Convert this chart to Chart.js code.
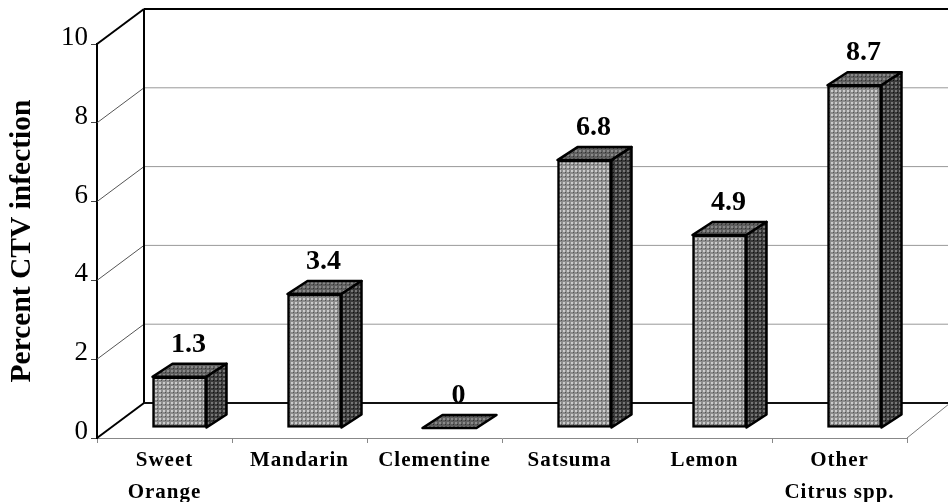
<!DOCTYPE html>
<html>
<head>
<meta charset="utf-8">
<style>
  html, body { margin: 0; padding: 0; background: #fff; }
  canvas { display: block; }
</style>
<script src="https://cdn.jsdelivr.net/npm/chart.js@4/dist/chart.umd.js"></script>
</head>
<body>
<canvas id="chart" width="948" height="502"></canvas>
<script>
const categories = [['Sweet', 'Orange'], 'Mandarin', 'Clementine', 'Satsuma', 'Lemon', ['Other', 'Citrus spp.']];
const infection = [1.3, 3.4, 0, 6.8, 4.9, 8.7];
const valueLabels = ['1.3', '3.4', '0', '6.8', '4.9', '8.7'];
const yTicks = [0, 2, 4, 6, 8, 10];

const SERIF = '"Liberation Serif", "Times New Roman", serif';

// depth of the whole box, of the bars, and where the bars stand inside the box
const boxDepth = { x: 47, y: -35 };
const barDepth = { x: 20, y: -13 };
const barShift = { x: 15, y: -10 };

// dithered fill like the printed halftone
function halftone(base, dot, shade) {
    const c = document.createElement('canvas');
    c.width = c.height = 4;
    const g = c.getContext('2d');
    g.fillStyle = base;
    g.fillRect(0, 0, 4, 4);
    g.fillStyle = dot;
    g.fillRect(0, 0, 2, 2);
    g.fillStyle = shade;
    g.fillRect(2, 2, 1, 1);
    return g.createPattern(c, 'repeat');
}

const frontFill = halftone('#8c8c8c', '#cccccc', '#555');
const topFill = halftone('#5e5e5e', '#8a8a8a', '#333');
const sideFill = halftone('#3a3a3a', '#777', '#111');

function poly(ctx, points, fill) {
    ctx.beginPath();
    points.forEach((p, i) => i ? ctx.lineTo(p[0], p[1]) : ctx.moveTo(p[0], p[1]));
    ctx.closePath();
    ctx.fillStyle = fill;
    ctx.fill();
    ctx.stroke();
}

function line(ctx, x1, y1, x2, y2, color, width) {
    ctx.beginPath();
    ctx.moveTo(x1, y1);
    ctx.lineTo(x2, y2);
    ctx.strokeStyle = color;
    ctx.lineWidth = width;
    ctx.stroke();
}

const box3d = {
    id: 'box3d',
    beforeDatasetsDraw(chart) {
        const ctx = chart.ctx;
        const y = chart.scales.y;
        const area = chart.chartArea;
        const backLeft = area.left + boxDepth.x;
        ctx.save();
        // grid on the side wall and back wall
        yTicks.slice(1, -1).forEach(v => {
            const py = y.getPixelForValue(v);
            line(ctx, area.left, py, backLeft, py + boxDepth.y, '#555', 1);
            line(ctx, backLeft, py + boxDepth.y, chart.width, py + boxDepth.y, '#999', 1);
        });
        const top = y.getPixelForValue(10);
        const zero = y.getPixelForValue(0);
        line(ctx, area.left, top, backLeft, top + boxDepth.y, '#000', 2);
        line(ctx, backLeft, top + boxDepth.y, chart.width, top + boxDepth.y, '#000', 2);
        line(ctx, backLeft, top + boxDepth.y, backLeft, zero + boxDepth.y, '#000', 2);
        // floor
        line(ctx, area.left, zero, backLeft, zero + boxDepth.y, '#000', 2);
        line(ctx, backLeft, zero + boxDepth.y, chart.width, zero + boxDepth.y, '#111', 2);
        line(ctx, area.right, zero, chart.width, zero + boxDepth.y * 0.95, '#777', 1);
        ctx.restore();

        ctx.save();
        ctx.translate(barShift.x, barShift.y);
    },
    afterDatasetsDraw(chart) {
        const ctx = chart.ctx;
        ctx.strokeStyle = '#000';
        ctx.lineWidth = 2.5;
        ctx.lineJoin = 'round';
        chart.getDatasetMeta(0).data.forEach((bar, i) => {
            const half = bar.width / 2;
            const l = bar.x - half;
            const r = bar.x + half;
            const t = bar.y;
            const b = bar.base;
            poly(ctx, [[l, t], [l + barDepth.x, t + barDepth.y], [r + barDepth.x, t + barDepth.y], [r, t]], topFill);
            if (b - t > 0) {
                poly(ctx, [[r, t], [r + barDepth.x, t + barDepth.y], [r + barDepth.x, b + barDepth.y], [r, b]], sideFill);
            }
            ctx.fillStyle = '#000';
            ctx.font = 'bold 28px ' + SERIF;
            ctx.textAlign = 'center';
            ctx.textBaseline = 'alphabetic';
            ctx.fillText(valueLabels[i], bar.x + barDepth.x / 2 - 1, t + barDepth.y - 12);
        });
        ctx.restore();
        // x tick labels draw after the datasets (ticks.z), with the wide spacing of the original
        ctx.letterSpacing = '1px';
    },
    afterDraw(chart) {
        chart.ctx.letterSpacing = '0px';
    }
};

new Chart(document.getElementById('chart').getContext('2d'), {
    type: 'bar',
    data: {
        labels: categories,
        datasets: [{
            data: infection,
            backgroundColor: frontFill,
            borderColor: '#000',
            borderWidth: 2.5,
            borderSkipped: false,
            barThickness: 54,
            clip: false
        }]
    },
    options: {
        responsive: false,
        animation: false,
        layout: { padding: { top: 44, right: 41 } },
        plugins: {
            legend: { display: false },
            title: { display: false },
            tooltip: { enabled: false }
        },
        scales: {
            x: {
                afterFit: scale => { scale.height = 64; },
                border: { color: '#888', width: 1 },
                grid: { drawOnChartArea: false, tickLength: 5, color: '#888' },
                ticks: {
                    z: 1,
                    color: '#000',
                    padding: 1,
                    autoSkip: false,
                    maxRotation: 0,
                    font: { family: SERIF, size: 21, weight: 'bold', lineHeight: 1.55 }
                }
            },
            y: {
                min: 0,
                max: 10,
                afterFit: scale => { scale.width = 97; },
                afterBuildTicks: scale => { scale.ticks = yTicks.map(value => ({ value })); },
                border: { color: '#000', width: 2 },
                grid: { drawOnChartArea: false, tickLength: 6, color: '#444' },
                ticks: {
                    color: '#000',
                    padding: 3,
                    labelOffset: -6,
                    font: { family: SERIF, size: 27 }
                },
                title: {
                    display: true,
                    text: 'Percent CTV infection',
                    color: '#000',
                    padding: { top: 5, bottom: 0 },
                    font: { family: SERIF, size: 29.5, weight: 'bold' }
                }
            }
        }
    },
    plugins: [box3d]
});
</script>
</body>
</html>
